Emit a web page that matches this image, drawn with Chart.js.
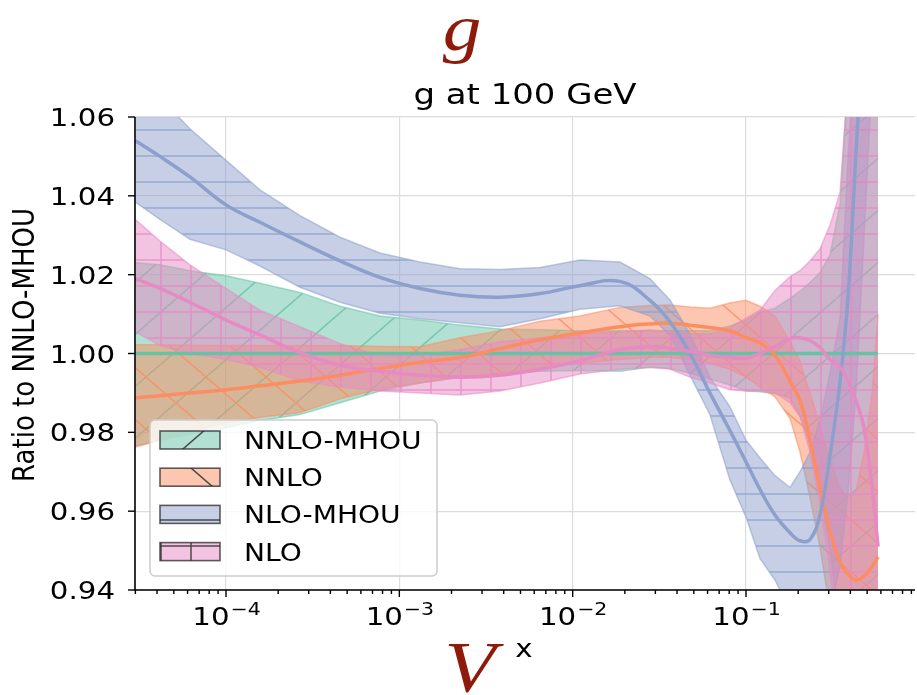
<!DOCTYPE html>
<html>
<head>
<meta charset="utf-8">
<script src="https://cdn.jsdelivr.net/npm/chart.js@4/dist/chart.umd.min.js"></script>
<style>
  html, body { margin: 0; padding: 0; background: #fff; }
  canvas { display: block; }
</style>
</head>
<body>
<canvas id="chart" width="917" height="695"></canvas>
<script>
// momentum fraction x (log axis)
const xValues = [3.0e-5, 4.16e-5, 6.19e-5, 1.0e-4, 1.57e-4, 2.67e-4, 4.55e-4, 7.73e-4, 1.315e-3, 2.24e-3,
  3.81e-3, 6.49e-3, 1.10e-2, 1.875e-2, 2.79e-2, 3.65e-2, 4.75e-2, 6.19e-2, 8.07e-2, 0.100,
  0.1204, 0.147, 0.1795, 0.205, 0.234, 0.267, 0.305, 0.349, 0.388, 0.431, 0.480, 0.534, 0.578];

// ratios to NNLO-MHOU: central value and one-sigma band
const nnloMhouCentral = [1.0, 1.0, 1.0, 1.0, 1.0, 1.0, 1.0, 1.0, 1.0, 1.0, 1.0, 1.0, 1.0, 1.0, 1.0, 1.0, 1.0,
  1.0, 1.0, 1.0, 1.0, 1.0, 1.0, 1.0, 1.0, 1.0, 1.0, 1.0, 1.0, 1.0, 1.0, 1.0, 1.0];
const nnloMhouUpper = [1.023, 1.0225, 1.021, 1.0197, 1.0178, 1.0155, 1.012, 1.0095, 1.0085, 1.0072, 1.0062,
  1.006, 1.0058, 1.0058, 1.0058, 1.0058, 1.0058, 1.0058, 1.007, 1.0085, 1.0105, 1.0115, 1.014, 1.0158, 1.018,
  1.0205, 1.025, 1.038, 1.07, 1.1, 1.12, 1.14, 1.15];
const nnloMhouLower = [0.9765, 0.978, 0.9795, 0.9812, 0.983, 0.9845, 0.9875, 0.9905, 0.9925, 0.994, 0.995,
  0.9955, 0.9957, 0.9955, 0.9965, 0.9962, 0.995, 0.9935, 0.992, 0.9905, 0.9903, 0.9898, 0.9887, 0.984, 0.977,
  0.965, 0.95, 0.93, 0.91, 0.9, 0.89, 0.88, 0.87];

const nnloCentral = [0.9887, 0.9893, 0.99, 0.9908, 0.9918, 0.993, 0.9945, 0.9962, 0.9978, 0.999, 1.0012,
  1.0035, 1.0052, 1.0068, 1.0075, 1.0077, 1.0072, 1.0066, 1.0057, 1.004, 1.0027, 0.9995, 0.993, 0.988, 0.978,
  0.966, 0.955, 0.947, 0.944, 0.9425, 0.9435, 0.946, 0.9484];
const nnloUpper = [1.0022, 1.0022, 1.0021, 1.002, 1.002, 1.002, 1.002, 1.0018, 1.0017, 1.004, 1.0058, 1.0082,
  1.0095, 1.0117, 1.0122, 1.0123, 1.0118, 1.0115, 1.0128, 1.0135, 1.012, 1.0095, 1.003, 0.998, 0.99, 0.982,
  0.973, 0.966, 0.963, 0.965, 0.975, 0.99, 1.01];
const nnloLower = [0.9763, 0.978, 0.9803, 0.9823, 0.9838, 0.985, 0.9885, 0.991, 0.9925, 0.994, 0.995, 0.9965,
  0.9975, 0.9985, 0.999, 0.999, 0.9985, 0.9975, 0.996, 0.994, 0.9915, 0.989, 0.9835, 0.975, 0.9635, 0.951,
  0.935, 0.925, 0.92, 0.92, 0.92, 0.92, 0.92];

const nloMhouCentral = [1.054, 1.050, 1.0448, 1.0377, 1.0333, 1.0283, 1.0235, 1.0193, 1.0165, 1.0148, 1.0143,
  1.0152, 1.0172, 1.0183, 1.0135, 1.008, 1.0, 0.990, 0.9805, 0.9725, 0.9655, 0.959, 0.9545, 0.9525, 0.9528,
  0.959, 0.974, 0.993, 1.0145, 1.051, 1.087, 1.12, 1.15];
const nloMhouUpper = [1.07, 1.065, 1.057, 1.049, 1.0415, 1.035, 1.0295, 1.0255, 1.0232, 1.0215, 1.0213, 1.0218,
  1.0237, 1.0232, 1.019, 1.0135, 1.005, 0.994, 0.9865, 0.978, 0.9735, 0.969, 0.966, 0.970, 0.975, 0.983,
  0.995, 1.009, 1.05, 1.08, 1.1, 1.12, 1.14];
const nloMhouLower = [1.0384, 1.034, 1.029, 1.0263, 1.0222, 1.0168, 1.013, 1.0102, 1.0088, 1.0078, 1.0068,
  1.0088, 1.0112, 1.0121, 1.0095, 1.0045, 0.9945, 0.9845, 0.968, 0.9585, 0.948, 0.9425, 0.935, 0.93, 0.928,
  0.93, 0.935, 0.946, 0.965, 0.99, 1.03, 1.07, 1.1];

const nloCentral = [1.019, 1.0165, 1.013, 1.0085, 1.0047, 1.0002, 0.997, 0.9955, 0.9945, 0.994, 0.9945, 0.996,
  0.9982, 1.001, 1.0017, 1.0013, 1.0005, 0.9995, 0.999, 0.9988, 1.0, 1.0018, 1.0038, 1.004, 1.0033, 1.0015,
  0.9985, 0.9966, 0.993, 0.988, 0.981, 0.966, 0.951];
const nloUpper = [1.034, 1.0285, 1.0225, 1.0165, 1.011, 1.0068, 1.0025, 0.9995, 0.9995, 1.001, 1.003, 1.004,
  1.005, 1.0055, 1.006, 1.0055, 1.005, 1.005, 1.0065, 1.009, 1.011, 1.016, 1.0195, 1.021, 1.0235, 1.0265,
  1.0325, 1.041, 1.07, 1.1, 1.13, 1.16, 1.2];
const nloLower = [1.0055, 1.002, 1.0, 0.9985, 0.9965, 0.993, 0.9915, 0.9905, 0.99, 0.9895, 0.9905, 0.9925,
  0.9948, 0.996, 0.9965, 0.996, 0.994, 0.9925, 0.9908, 0.9905, 0.9905, 0.99, 0.9875, 0.984, 0.975, 0.962,
  0.945, 0.925, 0.9, 0.88, 0.86, 0.85, 0.84];

const seriesLabels = ['NNLO-MHOU', 'NNLO', 'NLO-MHOU', 'NLO'];
const yTickValues = [0.94, 0.96, 0.98, 1.00, 1.02, 1.04, 1.06];
const xMajorTicks = [1e-4, 1e-3, 1e-2, 1e-1];
const xMajorExponents = ['\u22124', '\u22123', '\u22122', '\u22121'];

const SX = 1.17; // text is drawn slightly wide
const RED = '#8e1a0b';

const series = [
  { label: seriesLabels[0], rgb: [102, 194, 165], hatch: '/', upper: nnloMhouUpper, lower: nnloMhouLower, central: nnloMhouCentral },
  { label: seriesLabels[1], rgb: [252, 141, 98], hatch: '\\', upper: nnloUpper, lower: nnloLower, central: nnloCentral },
  { label: seriesLabels[2], rgb: [141, 160, 203], hatch: '-', upper: nloMhouUpper, lower: nloMhouLower, central: nloMhouCentral },
  { label: seriesLabels[3], rgb: [231, 138, 195], hatch: '+', upper: nloUpper, lower: nloLower, central: nloCentral },
];

function rgba(c, a) { return `rgba(${c[0]},${c[1]},${c[2]},${a})`; }

function makeHatch(fill, stroke, kind) {
  const diag = kind === '/' || kind === '\\';
  const w = diag ? 60 : 30, h = diag ? 52 : 26;
  const c = document.createElement('canvas');
  c.width = w; c.height = h;
  const g = c.getContext('2d');
  g.fillStyle = fill;
  g.fillRect(0, 0, w, h);
  g.strokeStyle = stroke;
  g.lineWidth = 1.5;
  g.beginPath();
  if (diag) {
    for (let k = -1; k <= 1; k++) {
      if (kind === '/') { g.moveTo(k * w, h); g.lineTo(k * w + w, 0); }
      else { g.moveTo(k * w, 0); g.lineTo(k * w + w, h); }
    }
  }
  if (kind === '-' || kind === '+') { g.moveTo(0, h / 2); g.lineTo(w, h / 2); }
  if (kind === '+') { g.moveTo(w / 2, 0); g.lineTo(w / 2, h); }
  g.stroke();
  const p = g.createPattern(c, 'repeat');
  p.setTransform(new DOMMatrix().translate(-4, -13));
  return p;
}

function points(ys) { return xValues.map((x, i) => ({ x, y: ys[i] })); }

// bands first (all of them), central lines on top
const bands = [], lines = [];
series.forEach(s => {
  bands.push({
    label: s.label + ' upper', data: points(s.upper),
    borderColor: rgba(s.rgb, 0.55), borderWidth: 1.5, pointRadius: 0,
    backgroundColor: makeHatch(rgba(s.rgb, 0.5), rgba(s.rgb, 0.8), s.hatch),
  });
  bands.push({
    label: s.label + ' lower', data: points(s.lower),
    borderColor: rgba(s.rgb, 0.55), borderWidth: 1.5, pointRadius: 0, fill: false,
  });
  lines.push({
    label: s.label, data: points(s.central),
    borderColor: rgba(s.rgb, 1), borderWidth: 3.5, pointRadius: 0, fill: false,
    tension: 0.4,
  });
});
const datasets = bands.concat(lines);
datasets.forEach((d, i) => {
  if (d.backgroundColor) d.fill = i + 1;
  d.order = 100 - i; // earlier datasets end up underneath
});

function wideText(ctx, str, x, y, font, align, color) {
  ctx.save();
  ctx.font = font;
  ctx.fillStyle = color;
  ctx.textAlign = align;
  ctx.textBaseline = 'alphabetic';
  ctx.translate(x, y);
  ctx.scale(SX, 1);
  ctx.fillText(str, 0, 0);
  ctx.restore();
}

const decorations = {
  id: 'decorations',
  afterDraw(chart) {
    const ctx = chart.ctx;
    const area = chart.chartArea;
    const xs = chart.scales.x, ys = chart.scales.y;
    ctx.save();

    // spines
    ctx.strokeStyle = '#000';
    ctx.lineWidth = 1.6;
    ctx.beginPath();
    ctx.moveTo(area.left, area.top);
    ctx.lineTo(area.left, area.bottom);
    ctx.lineTo(area.right, area.bottom);
    ctx.stroke();

    // y ticks and labels
    ctx.lineWidth = 1.4;
    yTickValues.forEach(v => {
      const py = ys.getPixelForValue(v);
      ctx.beginPath();
      ctx.moveTo(area.left - 7, py);
      ctx.lineTo(area.left, py);
      ctx.stroke();
      wideText(ctx, v.toFixed(2), area.left - 20, py + 9, '25px "DejaVu Sans"', 'right', '#000');
    });

    // x minor ticks
    for (let e = -5; e <= -1; e++) {
      for (let m = 2; m <= 9; m++) {
        const v = m * Math.pow(10, e);
        if (v < xs.min || v > xs.max) continue;
        const px = xs.getPixelForValue(v);
        ctx.beginPath();
        ctx.moveTo(px, area.bottom);
        ctx.lineTo(px, area.bottom + 4);
        ctx.stroke();
      }
    }
    // x major ticks and labels 10^n
    xMajorTicks.forEach((v, i) => {
      const px = xs.getPixelForValue(v);
      ctx.beginPath();
      ctx.moveTo(px, area.bottom);
      ctx.lineTo(px, area.bottom + 7);
      ctx.stroke();
      ctx.font = '25px "DejaVu Sans"';
      const wBase = ctx.measureText('10').width * SX;
      ctx.font = '17.5px "DejaVu Sans"';
      const wExp = ctx.measureText(xMajorExponents[i]).width * SX;
      const left = px - (wBase + wExp) / 2;
      wideText(ctx, '10', left, area.bottom + 35, '25px "DejaVu Sans"', 'left', '#000');
      wideText(ctx, xMajorExponents[i], left + wBase + 1, area.bottom + 25, '17.5px "DejaVu Sans"', 'left', '#000');
    });

    // axis labels and titles
    wideText(ctx, 'x', 524, 657, '25px "DejaVu Sans"', 'center', '#000');
    wideText(ctx, 'V', 470, 691, 'italic 72px "Liberation Serif"', 'center', RED);
    wideText(ctx, 'g', 462, 50, 'italic 66px "Liberation Serif"', 'center', RED);
    wideText(ctx, 'g at 100 GeV', (area.left + area.right) / 2, 104, '29px "DejaVu Sans"', 'center', '#000');

    ctx.save();
    ctx.translate(26, 345);
    ctx.scale(SX, 1);
    ctx.rotate(-Math.PI / 2);
    ctx.font = '26px "DejaVu Sans"';
    ctx.fillStyle = '#000';
    ctx.textAlign = 'center';
    ctx.textBaseline = 'middle';
    ctx.fillText('Ratio to NNLO-MHOU', 0, 0);
    ctx.restore();

    // legend
    ctx.beginPath();
    ctx.roundRect(150, 420, 287, 156, 5);
    ctx.fillStyle = 'rgba(255,255,255,0.8)';
    ctx.fill();
    ctx.strokeStyle = '#cccccc';
    ctx.lineWidth = 1.5;
    ctx.stroke();
    series.forEach((s, i) => {
      const top = 431 + i * 37.2;
      ctx.fillStyle = makeHatch(rgba(s.rgb, 0.5), 'rgba(40,40,40,0.8)', s.hatch);
      ctx.fillRect(160, top, 60, 18);
      ctx.strokeStyle = 'rgba(40,40,40,0.75)';
      ctx.lineWidth = 1.6;
      ctx.strokeRect(160, top, 60, 18);
      wideText(ctx, s.label, 244, top + 18, '24px "DejaVu Sans"', 'left', '#000');
    });

    ctx.restore();
  }
};

new Chart(document.getElementById('chart').getContext('2d'), {
  type: 'line',
  data: { datasets },
  options: {
    responsive: false,
    animation: false,
    layout: { padding: { left: 135, top: 117, right: 2, bottom: 105 } },
    plugins: { legend: { display: false }, tooltip: { enabled: false } },
    elements: { line: { tension: 0 } },
    scales: {
      x: {
        type: 'logarithmic', min: 2.985e-5, max: 0.944,
        afterBuildTicks: s => { s.ticks = xMajorTicks.map(v => ({ value: v })); },
        ticks: { display: false },
        grid: { color: '#dcdcdc', lineWidth: 1.2, drawTicks: false },
        border: { display: false },
      },
      y: {
        type: 'linear', min: 0.94, max: 1.06,
        afterBuildTicks: s => { s.ticks = yTickValues.map(v => ({ value: v })); },
        ticks: { display: false },
        grid: { color: '#dcdcdc', lineWidth: 1.2, drawTicks: false },
        border: { display: false },
      },
    },
  },
  plugins: [decorations],
});
</script>
</body>
</html>
